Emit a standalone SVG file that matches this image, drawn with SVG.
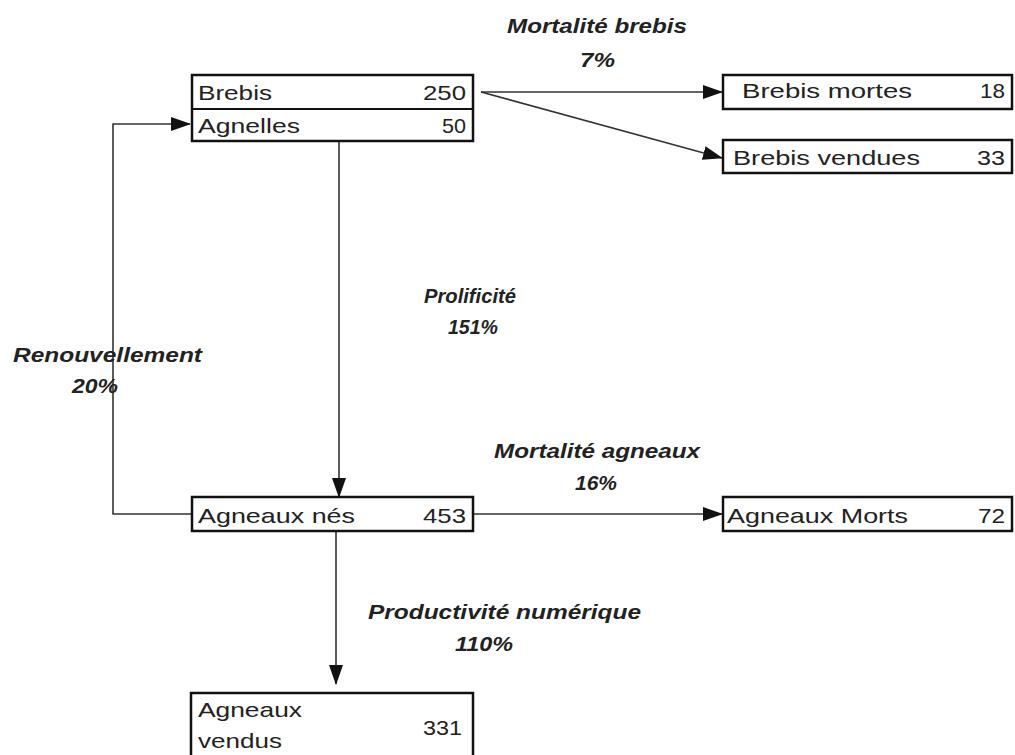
<svg xmlns="http://www.w3.org/2000/svg" width="1015" height="755" viewBox="0 0 1015 755">
<style>
.box{fill:#fff;stroke:#111;stroke-width:2.5}
.t{font-family:"Liberation Sans",Arial,sans-serif;font-size:21px;fill:#222}
.lb{font-family:"Liberation Sans",Arial,sans-serif;font-size:20px;font-weight:bold;font-style:italic;fill:#222}
.c{fill:none;stroke:#333;stroke-width:1.6}
</style>
<defs>
<marker id="ah" markerUnits="userSpaceOnUse" markerWidth="20" markerHeight="14" refX="19" refY="7" orient="auto">
<path d="M0,0 L20,7 L0,14 z" fill="#111"/>
</marker>
</defs>
<rect width="1015" height="755" fill="#fff"/>
<g id="connectors">
<line class="c" x1="481" y1="92" x2="722" y2="92" marker-end="url(#ah)"/>
<line class="c" x1="481" y1="92" x2="722" y2="158" marker-end="url(#ah)"/>
<polyline class="c" points="192,514 113,514 113,124 190,124" marker-end="url(#ah)"/>
<line class="c" x1="339" y1="141" x2="339" y2="497" marker-end="url(#ah)"/>
<line class="c" x1="336" y1="531" x2="336" y2="684" marker-end="url(#ah)"/>
<line class="c" x1="473" y1="514" x2="722" y2="514" marker-end="url(#ah)"/>
</g>
<g id="labels">
<text class="lb" x="507" y="33" textLength="180" lengthAdjust="spacingAndGlyphs">Mortalité brebis</text>
<text class="lb" x="580" y="67" textLength="35" lengthAdjust="spacingAndGlyphs">7%</text>
<text class="lb" x="424" y="303" textLength="92" lengthAdjust="spacingAndGlyphs">Prolificité</text>
<text class="lb" x="448" y="334" textLength="50" lengthAdjust="spacingAndGlyphs">151%</text>
<text class="lb" x="13" y="362" textLength="189" lengthAdjust="spacingAndGlyphs">Renouvellement</text>
<text class="lb" x="72" y="393" textLength="46" lengthAdjust="spacingAndGlyphs">20%</text>
<text class="lb" x="494" y="458" textLength="206" lengthAdjust="spacingAndGlyphs">Mortalité agneaux</text>
<text class="lb" x="575" y="490" textLength="42" lengthAdjust="spacingAndGlyphs">16%</text>
<text class="lb" x="368" y="619" textLength="273" lengthAdjust="spacingAndGlyphs">Productivité numérique</text>
<text class="lb" x="455" y="651" textLength="58" lengthAdjust="spacingAndGlyphs">110%</text>
</g>
<g id="node-brebis">
<rect class="box" x="192" y="75" width="281" height="66"/>
<line x1="192" y1="109" x2="473" y2="109" stroke="#111" stroke-width="2"/>
<text class="t" x="198" y="100" textLength="74" lengthAdjust="spacingAndGlyphs">Brebis</text>
<text class="t" x="423" y="100" textLength="43" lengthAdjust="spacingAndGlyphs">250</text>
<text class="t" x="198" y="133" textLength="102" lengthAdjust="spacingAndGlyphs">Agnelles</text>
<text class="t" x="442" y="133" textLength="24" lengthAdjust="spacingAndGlyphs">50</text>
</g>
<g id="node-brebis-mortes">
<rect class="box" x="723" y="75" width="289" height="34"/>
<text class="t" x="742" y="98" textLength="170" lengthAdjust="spacingAndGlyphs">Brebis mortes</text>
<text class="t" x="980" y="98" textLength="25" lengthAdjust="spacingAndGlyphs">18</text>
</g>
<g id="node-brebis-vendues">
<rect class="box" x="723" y="140" width="289" height="33"/>
<text class="t" x="733" y="165" textLength="187" lengthAdjust="spacingAndGlyphs">Brebis vendues</text>
<text class="t" x="977" y="165" textLength="28" lengthAdjust="spacingAndGlyphs">33</text>
</g>
<g id="node-agneaux-nes">
<rect class="box" x="192" y="497" width="281" height="34"/>
<text class="t" x="198" y="523" textLength="157" lengthAdjust="spacingAndGlyphs">Agneaux nés</text>
<text class="t" x="423" y="523" textLength="43" lengthAdjust="spacingAndGlyphs">453</text>
</g>
<g id="node-agneaux-morts">
<rect class="box" x="723" y="497" width="289" height="34"/>
<text class="t" x="727" y="523" textLength="181" lengthAdjust="spacingAndGlyphs">Agneaux Morts</text>
<text class="t" x="978" y="523" textLength="27" lengthAdjust="spacingAndGlyphs">72</text>
</g>
<g id="node-agneaux-vendus">
<rect class="box" x="191" y="693" width="282" height="80"/>
<text class="t" x="198" y="717" textLength="104" lengthAdjust="spacingAndGlyphs">Agneaux</text>
<text class="t" x="198" y="748" textLength="84" lengthAdjust="spacingAndGlyphs">vendus</text>
<text class="t" x="423" y="735" textLength="39" lengthAdjust="spacingAndGlyphs">331</text>
</g>
</svg>
